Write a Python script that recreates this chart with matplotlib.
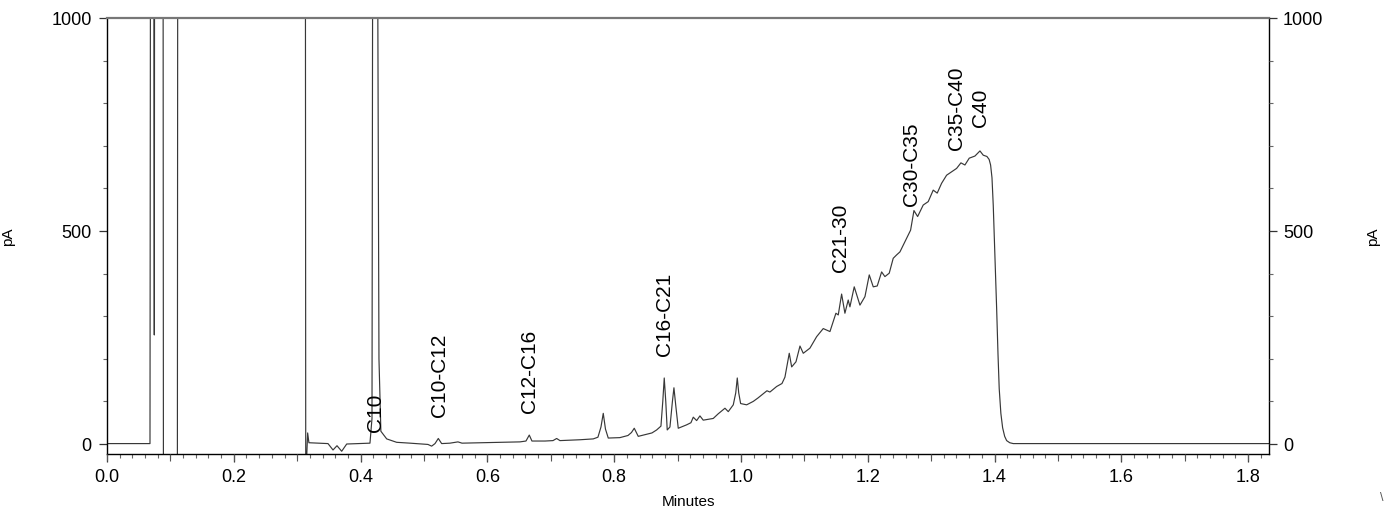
import matplotlib
matplotlib.use('Agg')
import matplotlib.pyplot as plt
from matplotlib.ticker import MultipleLocator, NullFormatter

plt.rcParams['font.family'] = ['Liberation Sans', 'DejaVu Sans']

# 色譜數據 (分鐘, pA)
time_min = [
    0.000, 0.0678, 0.0685, 0.0740, 0.0746, 0.0750, 0.0885, 0.0890, 0.1110, 0.1115,
    0.3130, 0.3135, 0.3150, 0.3165, 0.3185, 0.3350, 0.3486, 0.3565, 0.3628, 0.3702,
    0.3781, 0.4148, 0.4180, 0.4190, 0.4270, 0.4290, 0.4320, 0.4412, 0.4569, 0.4780,
    0.5063, 0.5121, 0.5174, 0.5226, 0.5279, 0.5410, 0.5536, 0.5600, 0.6514, 0.6609,
    0.6661, 0.6703, 0.6909, 0.7035, 0.7093, 0.7145, 0.7460, 0.7670, 0.7744, 0.7792,
    0.7828, 0.7863, 0.7907, 0.8091, 0.8218, 0.8273, 0.8317, 0.8380, 0.8513, 0.8596,
    0.8670, 0.8738, 0.8767, 0.8790, 0.8814, 0.8837, 0.8880, 0.8919, 0.8943, 0.8972,
    0.9011, 0.9143, 0.9211, 0.9248, 0.9301, 0.9353, 0.9405, 0.9563, 0.9642, 0.9700,
    0.9748, 0.9800, 0.9879, 0.9918, 0.9942, 0.9965, 0.9995, 1.0090, 1.0194, 1.0268,
    1.0352, 1.0410, 1.0457, 1.0563, 1.0647, 1.0694, 1.0762, 1.0800, 1.0868, 1.0931,
    1.0983, 1.1088, 1.1194, 1.1298, 1.1404, 1.1498, 1.1535, 1.1588, 1.1640, 1.1692,
    1.1719, 1.1787, 1.1877, 1.1956, 1.2024, 1.2087, 1.2150, 1.2219, 1.2271, 1.2339,
    1.2402, 1.2456, 1.2508, 1.2613, 1.2676, 1.2729, 1.2787, 1.2875, 1.2954, 1.3033,
    1.3096, 1.3165, 1.3244, 1.3323, 1.3402, 1.3470, 1.3533, 1.3601, 1.3691, 1.3770,
    1.3822, 1.3880, 1.3915, 1.3938, 1.3960, 1.3980, 1.4005, 1.4033, 1.4055, 1.4074,
    1.4100, 1.4128, 1.4160, 1.4191, 1.4240, 1.4295, 1.8330,
]
signal_pA = [
    1, 1, 1100, 1100, 256, 1100, 1100, -100, -100, 1100,
    1100, -100, -30, 26, 3, 2, 1, -14, -4, -17,
    0, 2, 60, 1100, 1100, 200, 30, 12, 4, 2,
    -1, -5, 1, 13, 1, 2, 5, 2, 5, 7,
    21, 7, 7, 8, 13, 8, 10, 12, 16, 40,
    72, 35, 14, 15, 20, 27, 37, 18, 23, 26,
    33, 42, 100, 155, 100, 33, 40, 100, 132, 90,
    37, 45, 50, 63, 55, 66, 56, 60, 71, 78,
    84, 76, 92, 120, 155, 120, 95, 92, 100, 108,
    118, 125, 122, 135, 142, 157, 213, 181, 193, 230,
    213, 225, 252, 271, 264, 307, 303, 352, 307, 338,
    322, 369, 326, 346, 397, 369, 371, 404, 393, 401,
    436, 444, 451, 483, 502, 548, 534, 561, 569, 596,
    589, 612, 631, 639, 647, 660, 655, 671, 676, 688,
    678, 675, 668, 655, 625, 560, 450, 320, 210, 130,
    72, 38, 18, 8, 3, 1, 1,
]

peak_labels = ['C10', 'C10-C12', 'C12-C16', 'C16-C21', 'C21-30', 'C30-C35', 'C35-C40', 'C40']
label_t = [0.4243, 0.5252, 0.6672, 0.8801, 1.1577, 1.2697, 1.3407, 1.3785]
label_v = [28, 63, 73, 207, 404, 558, 690, 744]

fig = plt.figure(figsize=(13.85, 5.15), dpi=100)
ax = fig.add_axes([0.07726, 0.1184, 0.8390, 0.8466])

ax.plot(time_min, signal_pA, color='#383838', lw=0.85)

ax.set_xlim(0, 1.833)
ax.set_ylim(-23.5, 1000)

# 峰標籤 (垂直文字)
for lab, t, v in zip(peak_labels, label_t, label_v):
    ax.text(t, v, lab, rotation=90, ha='center', va='bottom', fontsize=15)

# 邊框
ax.spines['top'].set_color('#777777')
ax.spines['top'].set_linewidth(1.6)
ax.spines['right'].set_linewidth(1.0)
ax.spines['left'].set_linewidth(1.0)
ax.spines['bottom'].set_linewidth(1.0)

# x 軸刻度
ax.xaxis.set_major_locator(MultipleLocator(0.2))
ax.xaxis.set_minor_locator(MultipleLocator(0.02))
ax.xaxis.set_major_formatter(plt.FormatStrFormatter('%.1f'))
ax.tick_params(axis='x', which='major', length=6, width=0.9, color='#333333',
               labelsize=13, pad=5)
ax.tick_params(axis='x', which='minor', length=3, width=0.8, color='#666666')

# y 軸刻度
ax.yaxis.set_major_locator(MultipleLocator(500))
ax.yaxis.set_minor_locator(MultipleLocator(100))
ax.tick_params(axis='y', which='major', length=6, width=0.9, color='#333333',
               labelsize=13, pad=5)
ax.tick_params(axis='y', which='minor', length=3, width=0.8, color='#666666')

# 0.1 分鐘的中刻度
ax_mid = ax.twiny()
ax_mid.set_xlim(ax.get_xlim())
ax_mid.xaxis.set_ticks_position('bottom')
ax_mid.xaxis.set_major_locator(MultipleLocator(0.1))
ax_mid.xaxis.set_major_formatter(NullFormatter())
ax_mid.tick_params(axis='x', length=5, width=0.8, color='#555555')
for s in ax_mid.spines.values():
    s.set_visible(False)

# 右側 y 軸
ax_r = ax.twinx()
ax_r.set_ylim(ax.get_ylim())
ax_r.yaxis.set_major_locator(MultipleLocator(500))
ax_r.yaxis.set_minor_locator(MultipleLocator(100))
ax_r.tick_params(axis='y', which='major', length=6, width=0.9, color='#333333',
                 labelsize=13, pad=4)
ax_r.tick_params(axis='y', which='minor', length=3, width=0.8, color='#666666')
for s in ax_r.spines.values():
    s.set_visible(False)

ax.set_xlabel('Minutes', fontsize=11)
ax.xaxis.set_label_coords(0.5, -0.095)
ax.set_ylabel('pA', fontsize=11)
ax.yaxis.set_label_coords(-0.079, 0.4977)
ax_r.set_ylabel('pA', fontsize=11)
ax_r.yaxis.set_label_coords(1.0835, 0.4977)

# 右下角被裁切的字元
fig.text(0.9975, 0.033, '\\', fontsize=9, color='#555555', ha='center', va='center')

fig.savefig('out.png', dpi=100)
plt.close(fig)
